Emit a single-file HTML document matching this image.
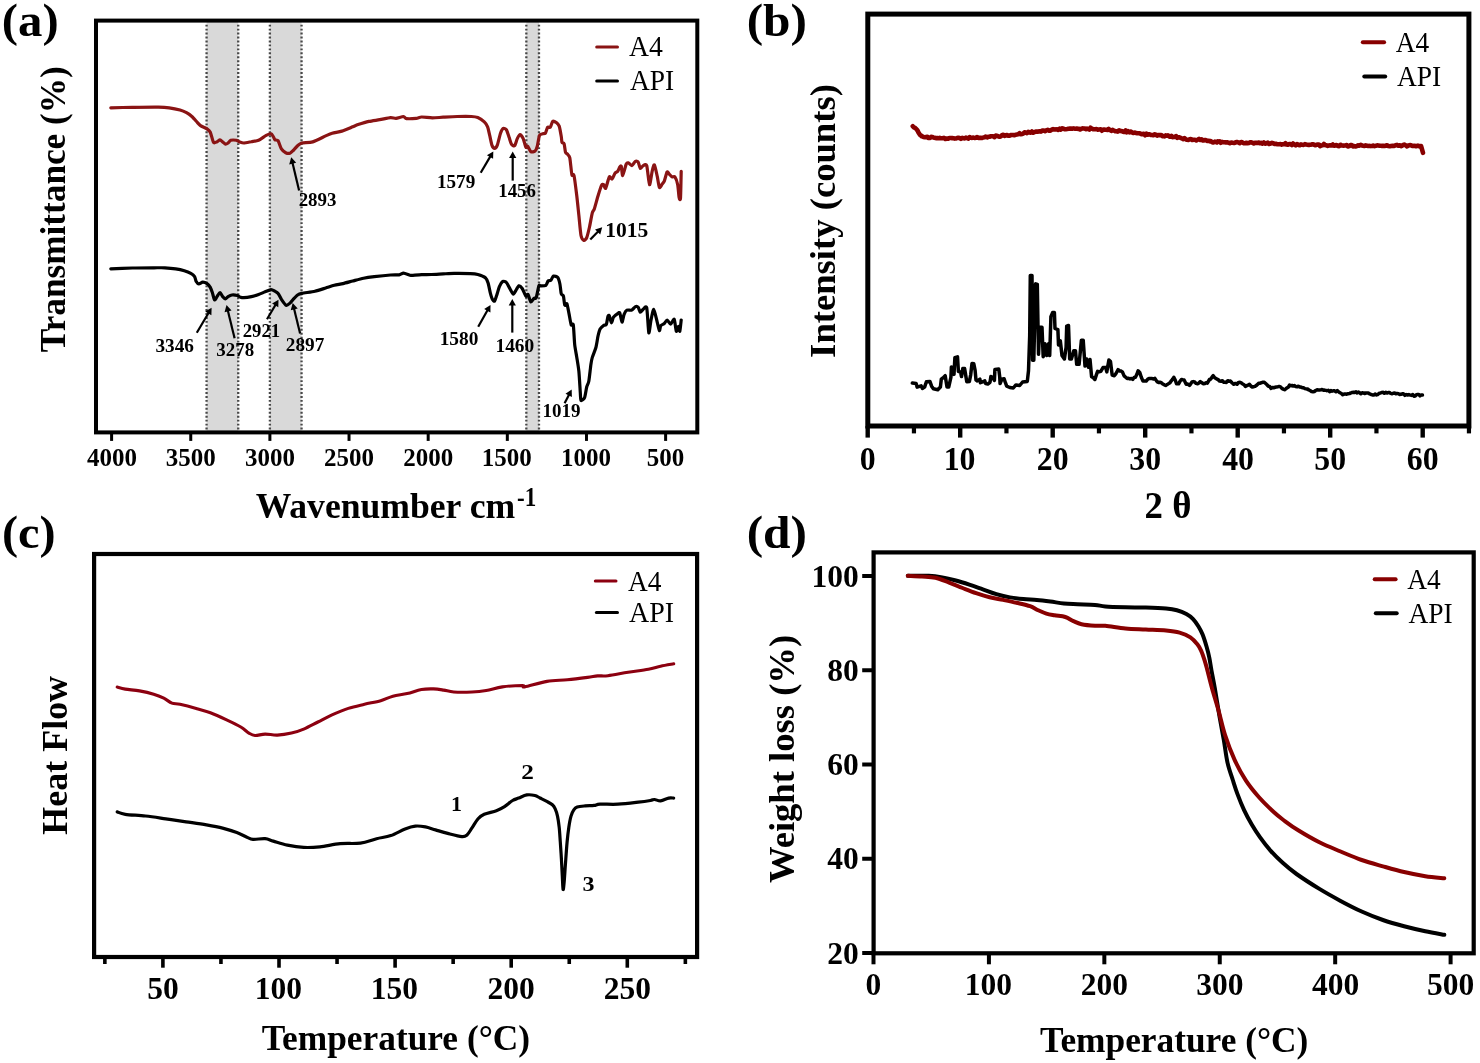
<!DOCTYPE html>
<html><head><meta charset="utf-8"><style>
html,body{margin:0;padding:0;background:#fff;width:1480px;height:1063px;overflow:hidden}
svg{display:block;font-family:"Liberation Serif",serif;-webkit-font-smoothing:antialiased;will-change:transform}
</style></head><body>
<div id="wrap"><svg width="1480" height="1063" viewBox="0 0 1480 1063">
<rect width="1480" height="1063" fill="#fff"/>
<g>
<rect x="206.57" y="20.60" width="31.66" height="411.80" fill="#d9d9d9"/>
<line x1="206.57" y1="24.7" x2="206.57" y2="432.40" stroke="#484848" stroke-width="2.3" stroke-dasharray="1.9 2.05"/>
<line x1="238.23" y1="24.7" x2="238.23" y2="432.40" stroke="#484848" stroke-width="2.3" stroke-dasharray="1.9 2.05"/>
<rect x="269.89" y="20.60" width="31.66" height="411.80" fill="#d9d9d9"/>
<line x1="269.89" y1="24.7" x2="269.89" y2="432.40" stroke="#484848" stroke-width="2.3" stroke-dasharray="1.9 2.05"/>
<line x1="301.55" y1="24.7" x2="301.55" y2="432.40" stroke="#484848" stroke-width="2.3" stroke-dasharray="1.9 2.05"/>
<rect x="526.32" y="20.60" width="12.66" height="411.80" fill="#d9d9d9"/>
<line x1="526.32" y1="24.7" x2="526.32" y2="432.40" stroke="#484848" stroke-width="2.3" stroke-dasharray="1.9 2.05"/>
<line x1="538.98" y1="24.7" x2="538.98" y2="432.40" stroke="#484848" stroke-width="2.3" stroke-dasharray="1.9 2.05"/>
<path d="M110.80,107.80 C113.32,107.74 126.85,107.38 132.40,107.30 C137.95,107.22 154.11,107.04 158.40,107.10 C162.69,107.16 166.68,107.46 169.20,107.80 C171.72,108.14 177.98,109.43 180.00,110.00 C182.02,110.57 185.11,111.94 186.50,112.70 C187.89,113.46 190.64,115.37 191.90,116.50 C193.16,117.63 196.30,121.33 197.30,122.40 C198.30,123.47 199.37,124.94 200.50,125.70 C201.63,126.46 205.86,128.14 207.00,128.90 C208.14,129.66 209.54,130.62 210.30,132.20 C211.06,133.77 212.74,141.27 213.50,142.40 C214.26,143.53 216.04,142.19 216.80,141.90 C217.56,141.61 219.31,139.90 220.00,139.90 C220.69,139.90 222.07,141.41 222.70,141.90 C223.33,142.39 224.77,143.97 225.40,144.10 C226.03,144.23 227.47,143.44 228.10,143.00 C228.73,142.56 229.86,140.62 230.80,140.30 C231.75,139.99 235.19,140.11 236.20,140.30 C237.21,140.49 238.61,141.59 239.50,141.90 C240.39,142.22 242.41,143.02 243.80,143.00 C245.19,142.98 249.67,142.01 251.40,141.70 C253.13,141.38 256.87,141.03 258.60,140.30 C260.33,139.57 264.74,136.16 266.20,135.40 C267.66,134.64 270.28,133.67 271.10,133.80 C271.92,133.93 272.76,135.81 273.20,136.50 C273.64,137.19 274.33,139.20 274.90,139.70 C275.47,140.20 277.34,139.73 278.10,140.80 C278.86,141.87 280.51,147.51 281.40,148.90 C282.29,150.29 284.70,152.20 285.70,152.70 C286.70,153.20 289.12,153.46 290.00,153.20 C290.88,152.94 292.31,151.38 293.20,150.50 C294.09,149.62 296.59,146.57 297.60,145.70 C298.62,144.82 300.14,143.44 301.90,143.00 C303.66,142.56 309.92,142.73 312.70,141.90 C315.48,141.07 323.43,136.92 325.70,135.90 C327.97,134.88 330.31,133.76 332.20,133.20 C334.09,132.64 339.51,131.85 341.90,131.10 C344.29,130.35 350.81,127.56 352.70,126.80 C354.59,126.04 356.21,125.23 358.10,124.60 C359.99,123.97 366.38,121.97 368.90,121.40 C371.42,120.83 377.18,120.14 379.70,119.70 C382.22,119.26 388.60,117.76 390.50,117.60 C392.40,117.44 394.48,118.43 396.00,118.30 C397.52,118.17 402.27,116.47 403.50,116.50 C404.73,116.53 405.02,118.39 406.50,118.60 C407.98,118.81 414.44,118.49 416.20,118.30 C417.96,118.11 419.71,117.05 421.60,117.00 C423.49,116.95 429.88,117.88 432.40,117.90 C434.92,117.92 440.29,117.36 443.20,117.20 C446.11,117.04 454.01,116.58 457.30,116.50 C460.59,116.42 469.01,116.37 471.40,116.50 C473.79,116.63 476.30,116.97 477.80,117.60 C479.31,118.23 483.16,120.83 484.30,121.90 C485.44,122.97 486.97,125.22 487.60,126.80 C488.23,128.38 489.20,133.27 489.70,135.40 C490.20,137.53 491.33,143.58 491.90,145.10 C492.47,146.62 493.97,148.40 494.60,148.40 C495.23,148.40 496.61,146.87 497.30,145.10 C497.99,143.33 499.81,135.15 500.50,133.20 C501.19,131.25 502.50,128.77 503.20,128.40 C503.90,128.03 505.80,128.93 506.50,130.00 C507.20,131.07 508.63,135.95 509.20,137.60 C509.77,139.25 510.77,143.16 511.40,144.10 C512.03,145.04 513.91,146.34 514.60,145.70 C515.29,145.06 516.67,139.91 517.30,138.60 C517.93,137.29 519.31,134.50 520.00,134.50 C520.69,134.50 522.51,137.11 523.20,138.60 C523.89,140.09 525.39,146.41 525.90,147.30 C526.41,148.19 527.03,145.70 527.60,146.20 C528.17,146.70 529.92,151.03 530.80,151.60 C531.67,152.17 534.34,151.73 535.10,151.10 C535.86,150.47 536.79,148.03 537.30,146.20 C537.81,144.37 538.87,136.85 539.50,135.40 C540.13,133.95 542.01,134.06 542.70,133.80 C543.39,133.54 544.83,133.96 545.40,133.20 C545.97,132.44 547.03,127.99 547.60,127.30 C548.17,126.61 549.69,128.01 550.30,127.30 C550.91,126.59 552.10,121.75 552.80,121.20 C553.50,120.65 555.55,122.03 556.30,122.60 C557.05,123.17 558.62,124.45 559.20,126.10 C559.78,127.74 560.97,134.81 561.30,136.70 C561.63,138.59 561.67,141.48 562.00,142.30 C562.33,143.12 563.69,142.54 564.10,143.70 C564.51,144.85 565.09,150.96 565.50,152.20 C565.91,153.44 567.10,153.64 567.60,154.30 C568.10,154.97 569.30,155.51 569.80,157.90 C570.30,160.29 571.41,172.75 571.90,174.80 C572.39,176.85 573.43,173.03 574.00,175.50 C574.57,177.97 576.23,191.31 576.80,196.00 C577.37,200.69 578.41,211.09 578.90,215.70 C579.39,220.31 580.42,232.62 581.00,235.50 C581.58,238.38 583.24,240.16 583.90,240.40 C584.56,240.65 586.05,239.16 586.70,237.60 C587.35,236.04 588.85,229.88 589.50,227.00 C590.15,224.12 591.73,215.03 592.30,212.90 C592.87,210.77 593.74,210.67 594.40,208.70 C595.06,206.73 597.17,198.72 598.00,196.00 C598.83,193.28 600.85,186.72 601.50,185.40 C602.15,184.08 603.11,184.37 603.60,184.70 C604.09,185.03 605.04,189.11 605.70,188.20 C606.37,187.29 608.55,177.97 609.30,176.90 C610.05,175.83 611.45,179.41 612.10,179.00 C612.75,178.59 614.25,174.30 614.90,173.40 C615.55,172.50 617.13,172.05 617.70,171.30 C618.27,170.55 619.38,167.58 619.80,167.00 C620.22,166.42 620.96,165.31 621.30,166.30 C621.64,167.29 622.13,175.75 622.70,175.50 C623.27,175.25 625.55,165.68 626.20,164.20 C626.85,162.72 627.65,162.64 628.30,162.80 C628.95,162.96 630.97,165.76 631.80,165.60 C632.63,165.44 634.65,161.81 635.40,161.40 C636.15,160.99 637.63,161.28 638.20,162.10 C638.77,162.92 639.73,167.99 640.30,168.40 C640.87,168.81 642.35,165.93 643.10,165.60 C643.85,165.27 645.95,163.37 646.70,165.60 C647.45,167.83 648.85,184.12 649.50,184.70 C650.15,185.28 651.73,172.91 652.30,170.60 C652.87,168.29 653.83,164.25 654.40,164.90 C654.97,165.55 656.62,173.56 657.20,176.20 C657.78,178.84 658.82,186.59 659.40,187.50 C659.98,188.41 661.63,184.75 662.20,184.00 C662.77,183.25 663.73,182.50 664.30,181.10 C664.87,179.70 666.53,172.82 667.10,172.00 C667.67,171.18 668.62,173.53 669.20,174.10 C669.78,174.67 671.44,176.57 672.10,176.90 C672.76,177.23 674.25,175.99 674.90,176.90 C675.55,177.81 677.21,182.31 677.70,184.70 C678.19,187.09 678.77,195.84 679.10,197.40 C679.43,198.96 680.25,201.14 680.50,198.10 C680.75,195.06 681.12,174.43 681.20,171.30" fill="none" stroke="#8a1414" stroke-width="3.2" stroke-linejoin="round" stroke-linecap="round"/>
<path d="M110.80,268.80 C113.32,268.71 127.35,268.12 132.40,268.00 C137.45,267.88 150.31,267.82 154.10,267.80 C157.89,267.78 162.38,267.68 164.90,267.80 C167.42,267.92 173.44,268.46 175.70,268.80 C177.96,269.14 182.54,270.16 184.30,270.70 C186.06,271.24 189.60,272.71 190.80,273.40 C192.00,274.09 193.97,275.66 194.60,276.60 C195.23,277.55 195.70,280.64 196.20,281.50 C196.70,282.36 198.14,283.92 198.90,284.00 C199.66,284.08 201.75,282.25 202.70,282.20 C203.64,282.15 206.11,282.99 207.00,283.60 C207.89,284.21 209.67,286.33 210.30,287.40 C210.93,288.47 211.90,291.34 212.40,292.80 C212.90,294.26 214.03,299.51 214.60,299.90 C215.17,300.28 216.67,296.95 217.30,296.10 C217.93,295.25 219.37,292.54 220.00,292.60 C220.63,292.66 222.07,295.88 222.70,296.60 C223.33,297.32 224.77,298.80 225.40,298.80 C226.03,298.80 227.34,297.04 228.10,296.60 C228.86,296.16 230.83,295.13 231.90,295.00 C232.97,294.87 236.30,295.24 237.30,295.50 C238.30,295.76 239.74,296.94 240.50,297.20 C241.26,297.46 242.53,297.77 243.80,297.70 C245.07,297.63 249.67,296.97 251.40,296.60 C253.13,296.23 257.00,295.06 258.60,294.50 C260.20,293.94 263.64,292.37 265.10,291.80 C266.56,291.23 269.96,289.67 271.10,289.60 C272.24,289.53 274.08,290.76 274.90,291.20 C275.72,291.64 277.34,292.45 278.10,293.40 C278.86,294.34 280.45,297.91 281.40,299.30 C282.34,300.69 285.20,304.86 286.20,305.30 C287.20,305.74 289.18,303.80 290.00,303.10 C290.82,302.40 292.31,300.25 293.20,299.30 C294.09,298.36 296.59,295.69 297.60,295.00 C298.62,294.31 299.88,293.84 301.90,293.40 C303.92,292.96 312.12,291.83 314.90,291.20 C317.68,290.57 323.44,288.69 325.70,288.00 C327.96,287.31 332.28,285.81 334.30,285.30 C336.32,284.79 340.85,284.10 343.00,283.60 C345.15,283.10 350.31,281.63 352.70,281.00 C355.09,280.37 360.98,278.71 363.50,278.20 C366.02,277.69 371.15,276.97 374.30,276.60 C377.45,276.23 387.60,275.21 390.50,275.00 C393.40,274.79 397.68,275.01 399.20,274.80 C400.72,274.59 402.24,273.14 403.50,273.20 C404.76,273.26 409.02,275.06 410.00,275.30 C410.98,275.55 410.55,275.37 411.90,275.30 C413.25,275.23 419.33,274.79 421.60,274.70 C423.88,274.61 428.88,274.59 431.40,274.50 C433.92,274.41 440.55,274.03 443.20,273.90 C445.85,273.77 450.94,273.43 454.10,273.40 C457.26,273.37 467.54,273.47 470.30,273.60 C473.06,273.73 476.04,274.02 477.80,274.50 C479.56,274.98 484.20,276.70 485.40,277.70 C486.60,278.70 487.53,281.34 488.10,283.10 C488.67,284.86 489.80,290.91 490.30,292.80 C490.80,294.69 491.90,298.34 492.40,299.30 C492.90,300.26 494.09,301.50 494.60,301.00 C495.11,300.50 496.23,296.70 496.80,295.00 C497.37,293.30 498.81,287.97 499.50,286.40 C500.19,284.82 501.88,281.94 502.70,281.50 C503.52,281.06 505.74,281.91 506.50,282.60 C507.26,283.29 508.44,286.08 509.20,287.40 C509.96,288.72 512.31,293.39 513.00,293.90 C513.69,294.41 514.41,292.75 515.10,291.80 C515.79,290.86 518.07,286.19 518.90,285.80 C519.73,285.42 521.38,287.30 522.20,288.50 C523.02,289.70 525.21,295.40 525.90,296.10 C526.59,296.80 527.53,293.81 528.10,294.50 C528.67,295.19 530.10,301.57 530.80,302.00 C531.50,302.43 533.47,298.70 534.10,298.20 C534.73,297.70 535.64,299.15 536.20,297.70 C536.76,296.25 538.40,287.19 538.90,285.80 C539.40,284.41 539.68,285.86 540.50,285.80 C541.32,285.74 545.01,285.86 545.90,285.30 C546.79,284.74 547.53,281.57 548.10,281.00 C548.67,280.43 550.17,280.97 550.80,280.40 C551.43,279.83 552.68,276.43 553.50,276.10 C554.32,275.77 557.05,276.68 557.80,277.60 C558.55,278.52 559.49,282.10 559.90,284.00 C560.31,285.90 560.89,292.50 561.30,293.90 C561.71,295.30 562.99,294.68 563.40,296.00 C563.81,297.32 564.39,304.30 564.80,305.20 C565.21,306.10 566.41,302.72 566.90,303.70 C567.39,304.68 568.50,311.13 569.00,313.60 C569.50,316.07 570.70,323.58 571.20,324.90 C571.70,326.22 572.89,322.59 573.30,324.90 C573.71,327.21 574.29,340.91 574.70,344.70 C575.11,348.49 576.31,354.27 576.80,357.40 C577.29,360.53 578.49,367.39 578.90,371.50 C579.31,375.61 580.05,389.23 580.30,392.60 C580.54,395.97 580.50,399.82 581.00,400.40 C581.50,400.98 583.94,399.16 584.60,397.60 C585.26,396.04 586.21,388.90 586.70,387.00 C587.19,385.10 588.31,383.94 588.80,381.30 C589.29,378.66 590.49,367.19 590.90,364.40 C591.31,361.61 591.72,359.37 592.30,357.40 C592.88,355.43 595.24,349.97 595.90,347.50 C596.56,345.03 597.51,338.35 598.00,336.20 C598.49,334.05 599.45,330.34 600.10,329.10 C600.75,327.86 602.87,326.17 603.60,325.60 C604.34,325.03 605.90,325.27 606.40,324.20 C606.90,323.13 607.56,317.39 607.90,316.40 C608.24,315.41 608.89,314.95 609.30,315.70 C609.71,316.45 610.91,322.64 611.40,322.80 C611.89,322.96 612.76,318.17 613.50,317.10 C614.24,316.03 616.97,314.09 617.70,313.60 C618.44,313.11 619.30,311.91 619.80,312.90 C620.30,313.89 621.50,321.94 622.00,322.10 C622.50,322.26 623.53,315.70 624.10,314.30 C624.67,312.90 626.00,310.59 626.90,310.10 C627.80,309.61 630.81,310.51 631.80,310.10 C632.79,309.69 634.65,306.93 635.40,306.60 C636.15,306.27 637.63,306.65 638.20,307.30 C638.77,307.95 639.73,311.95 640.30,312.20 C640.87,312.44 642.35,309.92 643.10,309.40 C643.85,308.88 646.04,304.98 646.70,307.70 C647.37,310.42 648.31,331.18 648.80,332.70 C649.29,334.22 650.33,323.42 650.90,320.70 C651.47,317.98 652.97,309.24 653.70,309.40 C654.44,309.56 656.54,319.63 657.20,322.10 C657.87,324.57 658.98,330.19 659.40,330.60 C659.82,331.01 660.23,326.43 660.80,325.60 C661.37,324.77 663.56,324.15 664.30,323.50 C665.03,322.85 666.37,319.92 667.10,320.00 C667.84,320.08 669.77,324.28 670.60,324.20 C671.43,324.12 673.54,318.47 674.20,319.30 C674.87,320.13 675.81,330.48 676.30,331.30 C676.79,332.12 677.99,326.30 678.40,326.30 C678.81,326.30 679.47,332.04 679.80,331.30 C680.13,330.56 681.04,321.32 681.20,320.00" fill="none" stroke="#000" stroke-width="3.2" stroke-linejoin="round" stroke-linecap="round"/>
<line x1="299.10" y1="190.40" x2="292.48" y2="162.65" stroke="#000" stroke-width="2.2" stroke-linecap="butt"/>
<path d="M291.20,157.30 L296.21,162.79 L289.21,164.46 Z" fill="#000"/>
<text transform="translate(298.64,205.90) scale(0.9697,1)" font-size="19.5" font-weight="bold" fill="#000">2893</text>
<line x1="480.70" y1="172.80" x2="490.51" y2="156.14" stroke="#000" stroke-width="2.2" stroke-linecap="butt"/>
<path d="M493.30,151.40 L493.10,158.83 L486.90,155.17 Z" fill="#000"/>
<text transform="translate(436.97,188.40) scale(0.9821,1)" font-size="19.5" font-weight="bold" fill="#000">1579</text>
<line x1="512.70" y1="180.60" x2="512.70" y2="156.90" stroke="#000" stroke-width="2.2" stroke-linecap="butt"/>
<path d="M512.70,151.40 L516.30,157.90 L509.10,157.90 Z" fill="#000"/>
<text transform="translate(498.19,196.90) scale(0.9687,1)" font-size="19.5" font-weight="bold" fill="#000">1456</text>
<line x1="590.30" y1="239.50" x2="598.36" y2="231.24" stroke="#000" stroke-width="2.2" stroke-linecap="butt"/>
<path d="M602.20,227.30 L600.24,234.47 L595.08,229.44 Z" fill="#000"/>
<text transform="translate(605.28,236.70) scale(1.0018,1)" font-size="21.5" font-weight="bold" fill="#000">1015</text>
<line x1="196.80" y1="332.80" x2="208.80" y2="312.53" stroke="#000" stroke-width="2.2" stroke-linecap="butt"/>
<path d="M211.60,307.80 L211.39,315.23 L205.19,311.56 Z" fill="#000"/>
<text transform="translate(155.43,351.50) scale(0.9884,1)" font-size="19.5" font-weight="bold" fill="#000">3346</text>
<line x1="234.60" y1="338.20" x2="227.81" y2="310.44" stroke="#000" stroke-width="2.2" stroke-linecap="butt"/>
<path d="M226.50,305.10 L231.54,310.56 L224.55,312.27 Z" fill="#000"/>
<text transform="translate(216.24,355.50) scale(0.9724,1)" font-size="19.5" font-weight="bold" fill="#000">3278</text>
<line x1="267.00" y1="319.30" x2="275.72" y2="304.44" stroke="#000" stroke-width="2.2" stroke-linecap="butt"/>
<path d="M278.50,299.70 L278.32,307.13 L272.11,303.48 Z" fill="#000"/>
<text transform="translate(242.65,336.60) scale(0.9612,1)" font-size="19.5" font-weight="bold" fill="#000">2921</text>
<line x1="300.10" y1="333.50" x2="294.00" y2="308.44" stroke="#000" stroke-width="2.2" stroke-linecap="butt"/>
<path d="M292.70,303.10 L297.74,308.56 L290.74,310.27 Z" fill="#000"/>
<text transform="translate(285.83,350.80) scale(0.9859,1)" font-size="19.5" font-weight="bold" fill="#000">2897</text>
<line x1="478.20" y1="326.70" x2="487.79" y2="309.78" stroke="#000" stroke-width="2.2" stroke-linecap="butt"/>
<path d="M490.50,305.00 L490.43,312.43 L484.16,308.88 Z" fill="#000"/>
<text transform="translate(439.65,344.70) scale(0.9929,1)" font-size="19.5" font-weight="bold" fill="#000">1580</text>
<line x1="512.30" y1="332.60" x2="512.30" y2="304.60" stroke="#000" stroke-width="2.2" stroke-linecap="butt"/>
<path d="M512.30,299.10 L515.90,305.60 L508.70,305.60 Z" fill="#000"/>
<text transform="translate(495.45,351.70) scale(0.9956,1)" font-size="19.5" font-weight="bold" fill="#000">1460</text>
<line x1="564.60" y1="403.20" x2="569.15" y2="394.48" stroke="#000" stroke-width="2.2" stroke-linecap="butt"/>
<path d="M571.70,389.60 L571.88,397.03 L565.50,393.70 Z" fill="#000"/>
<text transform="translate(542.48,417.00) scale(0.9767,1)" font-size="19.5" font-weight="bold" fill="#000">1019</text>
<line x1="111.60" y1="432.40" x2="111.60" y2="440.90" stroke="#000" stroke-width="3" stroke-linecap="butt"/>
<text transform="translate(86.91,465.80) scale(1.0000,1)" font-size="25" font-weight="bold" fill="#000">4000</text>
<line x1="190.75" y1="432.40" x2="190.75" y2="440.90" stroke="#000" stroke-width="3" stroke-linecap="butt"/>
<text transform="translate(165.75,465.80) scale(1.0000,1)" font-size="25" font-weight="bold" fill="#000">3500</text>
<line x1="269.89" y1="432.40" x2="269.89" y2="440.90" stroke="#000" stroke-width="3" stroke-linecap="butt"/>
<text transform="translate(244.89,465.80) scale(1.0000,1)" font-size="25" font-weight="bold" fill="#000">3000</text>
<line x1="349.03" y1="432.40" x2="349.03" y2="440.90" stroke="#000" stroke-width="3" stroke-linecap="butt"/>
<text transform="translate(324.03,465.80) scale(1.0000,1)" font-size="25" font-weight="bold" fill="#000">2500</text>
<line x1="428.18" y1="432.40" x2="428.18" y2="440.90" stroke="#000" stroke-width="3" stroke-linecap="butt"/>
<text transform="translate(403.18,465.80) scale(1.0000,1)" font-size="25" font-weight="bold" fill="#000">2000</text>
<line x1="507.32" y1="432.40" x2="507.32" y2="440.90" stroke="#000" stroke-width="3" stroke-linecap="butt"/>
<text transform="translate(481.82,465.80) scale(1.0000,1)" font-size="25" font-weight="bold" fill="#000">1500</text>
<line x1="586.47" y1="432.40" x2="586.47" y2="440.90" stroke="#000" stroke-width="3" stroke-linecap="butt"/>
<text transform="translate(560.97,465.80) scale(1.0000,1)" font-size="25" font-weight="bold" fill="#000">1000</text>
<line x1="665.62" y1="432.40" x2="665.62" y2="440.90" stroke="#000" stroke-width="3" stroke-linecap="butt"/>
<text transform="translate(646.87,465.80) scale(1.0000,1)" font-size="25" font-weight="bold" fill="#000">500</text>
<rect x="96.00" y="20.60" width="601.30" height="411.80" fill="none" stroke="#000" stroke-width="4" stroke-linejoin="miter"/>
<text transform="translate(255.67,518.00) scale(0.9894,1)" font-size="36" font-weight="bold" fill="#000">Wavenumber cm</text>
<text transform="translate(516.99,505.70) scale(0.8543,1)" font-size="27" font-weight="bold" fill="#000">-1</text>
<text transform="translate(64.70,352.13) rotate(-90) scale(0.9919,1)" font-size="35.5" font-weight="bold">Transmittance (%)</text>
<line x1="596.70" y1="47.00" x2="617.50" y2="47.00" stroke="#8a1414" stroke-width="3" stroke-linecap="round"/>
<line x1="596.70" y1="80.90" x2="617.50" y2="80.90" stroke="#000" stroke-width="3" stroke-linecap="round"/>
<text transform="translate(629.12,56.40) scale(0.9719,1)" font-size="28.5" font-weight="normal" fill="#000">A4</text>
<text transform="translate(629.93,90.20) scale(0.9632,1)" font-size="28.5" font-weight="normal" fill="#000">API</text>
<text transform="translate(1.85,35.60) scale(1.0392,1)" font-size="47" font-weight="bold" fill="#000">(a)</text>
<line x1="867.70" y1="426.00" x2="867.70" y2="437.60" stroke="#000" stroke-width="4.4" stroke-linecap="butt"/>
<text transform="translate(859.74,469.60) scale(0.9500,1)" font-size="33.5" font-weight="bold" fill="#000">0</text>
<line x1="913.95" y1="426.00" x2="913.95" y2="433.40" stroke="#000" stroke-width="4.2" stroke-linecap="butt"/>
<line x1="960.20" y1="426.00" x2="960.20" y2="437.60" stroke="#000" stroke-width="4.4" stroke-linecap="butt"/>
<text transform="translate(943.65,469.60) scale(0.9500,1)" font-size="33.5" font-weight="bold" fill="#000">10</text>
<line x1="1006.45" y1="426.00" x2="1006.45" y2="433.40" stroke="#000" stroke-width="4.2" stroke-linecap="butt"/>
<line x1="1052.70" y1="426.00" x2="1052.70" y2="437.60" stroke="#000" stroke-width="4.4" stroke-linecap="butt"/>
<text transform="translate(1036.79,469.60) scale(0.9500,1)" font-size="33.5" font-weight="bold" fill="#000">20</text>
<line x1="1098.95" y1="426.00" x2="1098.95" y2="433.40" stroke="#000" stroke-width="4.2" stroke-linecap="butt"/>
<line x1="1145.20" y1="426.00" x2="1145.20" y2="437.60" stroke="#000" stroke-width="4.4" stroke-linecap="butt"/>
<text transform="translate(1129.29,469.60) scale(0.9500,1)" font-size="33.5" font-weight="bold" fill="#000">30</text>
<line x1="1191.45" y1="426.00" x2="1191.45" y2="433.40" stroke="#000" stroke-width="4.2" stroke-linecap="butt"/>
<line x1="1237.70" y1="426.00" x2="1237.70" y2="437.60" stroke="#000" stroke-width="4.4" stroke-linecap="butt"/>
<text transform="translate(1222.19,469.60) scale(0.9500,1)" font-size="33.5" font-weight="bold" fill="#000">40</text>
<line x1="1283.95" y1="426.00" x2="1283.95" y2="433.40" stroke="#000" stroke-width="4.2" stroke-linecap="butt"/>
<line x1="1330.20" y1="426.00" x2="1330.20" y2="437.60" stroke="#000" stroke-width="4.4" stroke-linecap="butt"/>
<text transform="translate(1314.29,469.60) scale(0.9500,1)" font-size="33.5" font-weight="bold" fill="#000">50</text>
<line x1="1376.45" y1="426.00" x2="1376.45" y2="433.40" stroke="#000" stroke-width="4.2" stroke-linecap="butt"/>
<line x1="1422.70" y1="426.00" x2="1422.70" y2="437.60" stroke="#000" stroke-width="4.4" stroke-linecap="butt"/>
<text transform="translate(1406.87,469.60) scale(0.9500,1)" font-size="33.5" font-weight="bold" fill="#000">60</text>
<line x1="1468.95" y1="426.00" x2="1468.95" y2="433.40" stroke="#000" stroke-width="4.2" stroke-linecap="butt"/>
<path d="M912.8,126.3 L913.7,127.3 L915.1,127.9 L916.4,129.1 L917.5,130.5 L918.6,132.8 L920.1,135.1 L920.9,135.4 L921.5,136.3 L922.3,136.4 L923.4,136.9 L925.0,137.2 L927.4,136.7 L928.2,137.9 L929.1,137.8 L930.1,137.9 L931.1,136.9 L932.2,137.0 L933.4,137.4 L934.6,137.7 L935.9,138.1 L937.1,138.0 L938.5,138.3 L939.8,137.8 L941.2,138.3 L942.5,138.3 L943.9,137.9 L945.3,139.0 L946.7,138.5 L948.1,138.8 L949.5,138.0 L950.8,138.0 L952.1,138.1 L953.4,138.3 L954.7,138.6 L955.9,138.4 L957.2,138.1 L958.4,137.8 L959.7,138.0 L960.9,138.8 L962.2,137.9 L963.4,138.3 L964.7,138.4 L965.9,137.5 L967.1,138.1 L968.4,138.6 L969.6,137.1 L970.9,137.8 L972.1,137.9 L973.4,137.5 L974.6,138.0 L975.9,137.7 L977.1,137.0 L978.4,138.0 L979.6,137.8 L980.9,137.9 L982.1,138.0 L983.3,137.5 L984.6,137.3 L985.8,136.6 L987.1,137.4 L988.3,136.7 L989.6,136.7 L990.8,136.3 L992.1,136.3 L993.3,136.4 L994.6,137.2 L995.8,135.6 L997.0,135.7 L998.3,136.4 L999.5,136.8 L1000.8,136.3 L1002.0,135.1 L1003.3,134.7 L1004.5,135.9 L1005.8,135.3 L1007.0,135.0 L1008.3,135.8 L1009.5,135.7 L1010.7,135.1 L1012.0,135.0 L1013.2,135.0 L1014.5,135.3 L1015.7,134.7 L1017.0,134.5 L1018.2,134.3 L1019.5,133.2 L1020.7,134.3 L1022.0,134.0 L1023.2,133.6 L1024.5,132.3 L1025.7,132.7 L1026.9,133.2 L1028.2,131.8 L1029.4,132.4 L1030.7,132.8 L1031.9,131.5 L1033.2,132.7 L1034.4,132.1 L1035.7,131.6 L1036.9,131.6 L1038.2,131.6 L1039.5,131.2 L1040.9,131.6 L1042.2,130.6 L1043.6,130.5 L1045.0,131.1 L1046.3,130.4 L1047.7,129.9 L1049.1,130.6 L1050.4,130.7 L1051.8,129.7 L1053.1,129.1 L1054.5,129.5 L1055.8,129.4 L1057.1,129.2 L1058.3,129.9 L1059.6,128.7 L1060.8,129.6 L1062.0,128.4 L1063.1,128.5 L1064.2,129.1 L1065.7,129.2 L1067.1,129.0 L1068.4,128.7 L1069.7,128.6 L1071.0,128.6 L1072.2,128.7 L1073.3,128.4 L1074.5,128.6 L1075.6,128.7 L1076.7,128.5 L1077.9,128.9 L1079.0,128.8 L1080.1,129.5 L1081.3,128.7 L1082.5,128.4 L1083.7,128.5 L1084.9,128.6 L1086.0,129.1 L1087.1,128.6 L1088.2,128.9 L1089.3,129.6 L1090.5,127.7 L1091.6,128.4 L1092.8,129.1 L1094.0,129.2 L1095.2,129.2 L1096.5,129.0 L1097.8,129.6 L1099.2,129.5 L1100.7,129.3 L1101.8,130.7 L1102.8,129.8 L1104.0,129.5 L1105.1,129.8 L1106.3,129.8 L1107.5,130.0 L1108.7,128.9 L1110.0,130.0 L1111.3,130.8 L1112.5,129.9 L1113.8,130.5 L1115.1,131.1 L1116.4,131.2 L1117.7,131.6 L1119.1,130.3 L1120.4,131.0 L1121.7,131.1 L1123.0,131.7 L1124.3,132.0 L1125.6,130.4 L1126.8,132.3 L1128.1,131.2 L1129.4,132.3 L1130.6,131.5 L1131.9,132.4 L1133.2,133.0 L1134.6,132.6 L1135.9,132.9 L1137.2,133.3 L1138.5,133.2 L1139.9,133.3 L1141.2,134.2 L1142.5,134.1 L1143.8,133.7 L1145.1,135.2 L1146.4,133.6 L1147.6,134.7 L1148.9,134.3 L1150.1,134.6 L1151.2,135.0 L1152.3,135.0 L1153.4,135.3 L1154.5,134.4 L1155.5,134.5 L1157.1,135.6 L1158.6,135.0 L1159.9,135.1 L1161.2,135.0 L1162.4,136.2 L1163.5,136.0 L1164.6,136.4 L1165.7,135.4 L1166.8,135.8 L1167.9,135.4 L1169.0,136.3 L1170.2,136.8 L1171.4,135.8 L1172.6,137.1 L1173.8,137.0 L1174.9,136.7 L1176.1,136.1 L1177.3,137.8 L1178.5,137.4 L1179.7,137.4 L1180.9,138.1 L1182.1,138.4 L1183.4,139.1 L1184.6,138.2 L1185.9,139.4 L1187.1,139.7 L1188.4,139.9 L1189.6,139.3 L1190.9,139.1 L1192.2,140.0 L1193.5,139.7 L1194.9,139.8 L1196.3,140.5 L1197.6,139.8 L1199.0,138.9 L1200.3,139.9 L1201.6,139.3 L1202.9,140.5 L1204.1,140.4 L1205.2,140.0 L1206.3,140.4 L1207.3,140.9 L1208.8,140.7 L1209.9,141.5 L1210.7,141.1 L1211.5,141.8 L1212.3,142.2 L1213.3,142.5 L1214.8,141.6 L1216.8,142.5 L1217.7,141.3 L1218.7,141.7 L1219.7,141.4 L1220.8,142.8 L1222.0,141.8 L1223.2,142.3 L1224.4,142.3 L1225.7,142.4 L1227.0,142.2 L1228.4,142.6 L1229.8,143.3 L1231.2,142.5 L1232.6,142.8 L1234.0,143.0 L1235.4,142.5 L1236.9,142.0 L1238.3,142.4 L1239.7,143.1 L1241.1,142.0 L1242.5,142.5 L1243.8,143.2 L1245.1,143.2 L1246.4,142.8 L1247.6,143.2 L1248.9,143.0 L1250.1,142.4 L1251.4,142.3 L1252.6,142.8 L1253.8,143.5 L1255.0,142.9 L1256.2,142.8 L1257.5,142.9 L1258.7,142.6 L1259.9,143.3 L1261.2,142.9 L1262.5,143.6 L1263.8,142.4 L1265.1,143.7 L1266.4,143.3 L1267.8,142.7 L1269.1,144.0 L1270.6,143.6 L1272.0,142.8 L1273.5,143.4 L1274.6,144.0 L1275.7,143.7 L1276.9,144.2 L1278.1,144.3 L1279.3,144.3 L1280.5,144.1 L1281.7,144.6 L1282.9,144.3 L1284.1,144.3 L1285.4,143.2 L1286.7,144.5 L1287.9,144.8 L1289.2,144.1 L1290.5,144.0 L1291.8,145.1 L1293.1,143.5 L1294.4,144.5 L1295.7,145.4 L1297.0,144.0 L1298.3,144.7 L1299.7,145.3 L1301.0,144.4 L1302.3,144.7 L1303.6,144.9 L1304.9,144.1 L1306.2,144.5 L1307.5,144.7 L1308.8,145.0 L1310.0,144.7 L1311.3,144.6 L1312.6,144.3 L1313.8,144.6 L1315.1,145.2 L1316.3,144.9 L1317.6,144.5 L1318.9,144.5 L1320.1,146.1 L1321.4,145.5 L1322.7,145.3 L1323.9,143.9 L1325.2,145.3 L1326.5,145.3 L1327.7,145.9 L1329.0,145.4 L1330.2,145.2 L1331.5,145.5 L1332.8,144.4 L1334.0,145.8 L1335.3,145.5 L1336.6,145.0 L1337.8,146.0 L1339.1,146.2 L1340.4,144.8 L1341.6,145.2 L1342.9,145.6 L1344.2,145.6 L1345.4,145.4 L1346.7,145.1 L1347.9,146.5 L1349.2,146.1 L1350.5,145.1 L1351.7,145.0 L1353.0,146.4 L1354.3,146.1 L1355.5,146.5 L1356.8,146.1 L1358.1,145.3 L1359.4,145.8 L1360.7,144.8 L1361.9,145.4 L1363.2,145.7 L1364.5,146.0 L1365.8,145.4 L1367.1,145.7 L1368.3,146.0 L1369.6,145.9 L1370.9,146.1 L1372.2,145.9 L1373.4,145.6 L1374.7,146.1 L1375.9,145.8 L1377.2,145.4 L1378.4,145.5 L1379.7,145.8 L1380.9,145.7 L1382.1,145.9 L1383.4,145.8 L1384.6,145.9 L1385.8,145.7 L1387.0,145.2 L1388.3,146.0 L1389.7,146.3 L1391.1,146.0 L1392.6,145.7 L1394.0,146.0 L1395.5,145.3 L1397.0,144.9 L1398.4,145.8 L1399.9,145.3 L1401.4,146.1 L1402.8,145.2 L1404.3,144.5 L1405.7,145.2 L1407.1,146.4 L1408.5,145.5 L1409.8,145.1 L1411.1,145.3 L1412.4,145.9 L1413.6,145.9 L1414.8,145.7 L1415.9,146.3 L1416.9,145.9 L1417.9,145.6 L1418.8,145.9 L1419.7,146.4 L1420.4,146.0 L1421.1,146.1 L1423.0,152.8" fill="none" stroke="#880000" stroke-width="4.6" stroke-linejoin="round" stroke-linecap="round"/>
<path d="M912.3,383.1 L916.2,383.6 L917.1,387.1 L921.1,385.8 L922.4,388.4 L924.6,387.1 L926.4,381.8 L929.9,381.4 L931.6,386.2 L933.4,388.8 L937.8,389.7 L940.4,387.1 L941.3,379.2 L943.0,377.9 L945.2,375.7 L947.0,387.1 L948.7,387.1 L950.9,377.4 L951.4,366.9 L952.7,367.8 L954.0,374.4 L954.9,357.7 L957.5,356.8 L958.4,371.3 L960.6,372.2 L961.5,376.6 L962.8,368.6 L964.6,368.6 L966.8,381.8 L969.4,381.4 L970.7,374.8 L972.0,363.4 L973.8,363.8 L975.1,370.4 L976.0,380.1 L977.3,380.9 L979.9,379.2 L980.4,382.7 L982.6,381.8 L984.8,380.9 L985.6,383.6 L987.8,384.0 L990.0,382.3 L990.9,376.6 L992.7,377.4 L994.4,380.5 L994.9,369.5 L998.8,369.1 L999.7,376.6 L1000.1,383.6 L1001.9,379.2 L1004.1,378.7 L1005.4,382.7 L1006.7,386.2 L1009.8,387.5 L1013.3,388.0 L1015.9,384.9 L1019.7,385.5 L1022.6,382.0 L1027.3,381.4 L1028.5,370.8 L1029.7,335.5 L1030.3,275.6 L1032.0,275.6 L1032.6,360.2 L1033.8,360.2 L1035.6,283.8 L1037.3,284.4 L1038.5,354.3 L1039.7,327.3 L1042.0,327.3 L1043.2,356.7 L1045.0,343.8 L1046.7,355.5 L1048.5,343.8 L1049.7,355.5 L1050.9,316.7 L1052.6,312.6 L1054.4,312.6 L1055.0,328.5 L1057.9,329.7 L1058.5,344.9 L1060.3,340.8 L1062.0,355.5 L1064.4,359.0 L1066.1,347.3 L1066.7,326.1 L1068.5,325.5 L1069.7,359.0 L1071.4,359.0 L1073.8,350.8 L1075.5,350.8 L1076.7,364.3 L1079.1,364.3 L1081.4,340.2 L1083.2,340.2 L1085.0,366.1 L1086.7,359.0 L1088.5,367.3 L1090.0,359.5 L1091.6,376.8 L1093.2,377.6 L1094.9,379.5 L1096.2,375.4 L1097.6,371.4 L1099.2,371.8 L1100.8,371.4 L1103.0,367.6 L1104.3,367.5 L1105.7,367.6 L1106.8,371.9 L1108.9,360.0 L1110.5,361.6 L1112.2,375.1 L1114.3,375.7 L1115.6,374.2 L1116.8,372.0 L1118.1,369.7 L1119.5,370.9 L1121.0,371.1 L1122.4,371.9 L1124.1,375.9 L1125.7,377.3 L1127.1,378.5 L1128.6,378.3 L1130.0,378.9 L1131.3,378.5 L1132.7,379.4 L1134.1,377.5 L1135.4,377.3 L1136.8,374.5 L1138.1,370.8 L1139.7,372.4 L1141.3,377.2 L1143.0,381.1 L1144.6,381.1 L1146.2,381.1 L1147.8,379.2 L1149.5,378.4 L1150.8,378.5 L1152.2,378.6 L1153.6,379.0 L1154.9,378.4 L1157.0,381.6 L1158.5,382.4 L1159.9,382.3 L1161.4,382.7 L1162.8,384.0 L1164.3,384.8 L1165.7,385.4 L1167.1,384.6 L1168.6,383.6 L1170.0,382.7 L1171.3,380.8 L1172.5,379.4 L1173.8,377.3 L1175.2,380.0 L1176.5,383.8 L1178.6,383.8 L1180.0,381.3 L1181.4,379.5 L1182.8,379.8 L1184.1,380.0 L1186.2,384.3 L1187.8,384.1 L1189.5,385.4 L1190.7,383.9 L1192.0,381.9 L1193.2,381.6 L1194.7,382.0 L1196.1,383.4 L1197.6,383.8 L1198.9,383.0 L1200.3,381.6 L1201.9,382.7 L1203.5,383.8 L1204.8,383.5 L1206.0,382.7 L1207.3,383.2 L1209.5,379.5 L1210.7,379.1 L1212.0,377.2 L1213.2,375.7 L1214.8,377.8 L1216.5,378.9 L1218.1,379.6 L1219.7,381.1 L1221.0,381.3 L1222.4,380.7 L1223.8,382.3 L1225.1,382.2 L1226.4,382.4 L1227.8,380.7 L1229.2,381.3 L1230.5,381.1 L1232.2,383.0 L1233.8,384.3 L1235.4,383.4 L1237.0,384.3 L1238.5,382.4 L1240.0,382.3 L1241.3,382.8 L1242.7,384.0 L1244.1,384.7 L1245.4,386.4 L1246.8,385.7 L1248.1,385.1 L1249.5,384.3 L1250.8,386.0 L1252.2,387.0 L1253.5,386.7 L1254.9,386.4 L1256.2,385.6 L1257.6,384.3 L1258.9,383.2 L1260.3,383.2 L1261.6,382.6 L1263.0,382.2 L1264.3,382.3 L1265.7,383.5 L1267.0,384.7 L1268.4,386.2 L1269.7,386.4 L1271.1,388.4 L1272.4,387.4 L1273.8,387.7 L1275.2,387.3 L1276.5,386.9 L1277.8,386.7 L1279.2,386.4 L1280.5,386.8 L1281.9,388.4 L1283.2,389.1 L1284.6,389.7 L1285.8,388.9 L1287.0,387.8 L1288.3,387.2 L1289.5,385.1 L1290.7,385.7 L1292.0,385.4 L1293.3,386.1 L1294.5,385.5 L1295.8,386.6 L1297.1,386.8 L1298.4,386.2 L1299.7,387.0 L1300.9,387.1 L1302.2,387.7 L1303.5,387.7 L1304.9,388.6 L1306.2,388.9 L1307.6,389.0 L1308.9,390.0 L1310.3,390.6 L1311.6,391.6 L1313.0,391.8 L1314.3,391.5 L1315.7,390.5 L1317.1,389.8 L1318.4,390.0 L1319.6,389.9 L1320.9,389.8 L1322.1,389.6 L1323.4,390.2 L1324.6,390.1 L1325.9,390.4 L1327.1,390.7 L1328.4,390.3 L1329.6,391.7 L1330.9,390.5 L1332.1,391.2 L1333.4,390.8 L1334.6,390.8 L1336.0,391.8 L1337.3,390.6 L1338.7,391.8 L1340.0,392.8 L1341.4,393.5 L1342.7,394.8 L1344.1,394.1 L1345.4,394.0 L1346.8,394.2 L1348.1,393.7 L1349.5,393.5 L1350.8,393.0 L1352.2,392.4 L1353.5,392.2 L1354.7,392.5 L1356.0,391.8 L1357.2,393.0 L1358.4,392.0 L1359.6,392.7 L1360.9,393.8 L1362.1,392.7 L1363.3,392.9 L1364.5,393.5 L1365.8,393.0 L1367.0,393.1 L1368.4,393.1 L1369.7,393.9 L1371.1,394.5 L1372.4,394.9 L1373.8,394.9 L1375.2,394.1 L1376.5,394.9 L1377.8,394.5 L1379.2,393.2 L1380.6,393.0 L1381.9,392.4 L1383.2,392.3 L1384.4,393.3 L1385.7,392.3 L1387.0,393.1 L1388.2,392.6 L1389.5,392.6 L1390.8,393.4 L1392.1,393.8 L1393.3,393.2 L1394.6,392.9 L1395.9,393.8 L1397.1,393.4 L1398.4,393.7 L1399.7,394.4 L1400.9,394.3 L1402.2,393.8 L1403.5,393.8 L1404.9,395.4 L1406.2,394.5 L1407.6,395.1 L1408.9,394.6 L1410.3,395.1 L1411.6,395.4 L1412.8,394.5 L1414.0,396.2 L1415.2,396.0 L1416.4,394.7 L1417.6,394.5 L1418.8,394.4 L1420.0,395.8 L1421.2,394.9 L1422.4,395.1" fill="none" stroke="#000" stroke-width="3.5" stroke-linejoin="round" stroke-linecap="round"/>
<rect x="867.80" y="14.10" width="601.10" height="411.90" fill="none" stroke="#000" stroke-width="5.0" stroke-linejoin="miter"/>
<text transform="translate(1144.52,517.80) scale(0.9970,1)" font-size="37" font-weight="bold" fill="#000">2 θ</text>
<text transform="translate(835.40,357.88) rotate(-90) scale(1.0178,1)" font-size="36" font-weight="bold">Intensity (counts)</text>
<line x1="1362.80" y1="42.20" x2="1384.10" y2="42.20" stroke="#880000" stroke-width="4" stroke-linecap="round"/>
<line x1="1364.30" y1="76.40" x2="1385.20" y2="76.40" stroke="#000" stroke-width="4" stroke-linecap="round"/>
<text transform="translate(1395.83,51.80) scale(0.9436,1)" font-size="29" font-weight="normal" fill="#000">A4</text>
<text transform="translate(1396.93,86.30) scale(0.9466,1)" font-size="29" font-weight="normal" fill="#000">API</text>
<text transform="translate(746.68,36.10) scale(1.0498,1)" font-size="47" font-weight="bold" fill="#000">(b)</text>
<line x1="104.85" y1="957.00" x2="104.85" y2="964.00" stroke="#000" stroke-width="3.6" stroke-linecap="butt"/>
<line x1="162.90" y1="957.00" x2="162.90" y2="967.70" stroke="#000" stroke-width="3.6" stroke-linecap="butt"/>
<text transform="translate(147.15,998.80) scale(1.0000,1)" font-size="31.5" font-weight="bold" fill="#000">50</text>
<line x1="220.95" y1="957.00" x2="220.95" y2="964.00" stroke="#000" stroke-width="3.6" stroke-linecap="butt"/>
<line x1="279.00" y1="957.00" x2="279.00" y2="967.70" stroke="#000" stroke-width="3.6" stroke-linecap="butt"/>
<text transform="translate(254.74,998.80) scale(1.0000,1)" font-size="31.5" font-weight="bold" fill="#000">100</text>
<line x1="337.05" y1="957.00" x2="337.05" y2="964.00" stroke="#000" stroke-width="3.6" stroke-linecap="butt"/>
<line x1="395.10" y1="957.00" x2="395.10" y2="967.70" stroke="#000" stroke-width="3.6" stroke-linecap="butt"/>
<text transform="translate(370.85,998.80) scale(1.0000,1)" font-size="31.5" font-weight="bold" fill="#000">150</text>
<line x1="453.15" y1="957.00" x2="453.15" y2="964.00" stroke="#000" stroke-width="3.6" stroke-linecap="butt"/>
<line x1="511.20" y1="957.00" x2="511.20" y2="967.70" stroke="#000" stroke-width="3.6" stroke-linecap="butt"/>
<text transform="translate(487.58,998.80) scale(1.0000,1)" font-size="31.5" font-weight="bold" fill="#000">200</text>
<line x1="569.25" y1="957.00" x2="569.25" y2="964.00" stroke="#000" stroke-width="3.6" stroke-linecap="butt"/>
<line x1="627.30" y1="957.00" x2="627.30" y2="967.70" stroke="#000" stroke-width="3.6" stroke-linecap="butt"/>
<text transform="translate(603.68,998.80) scale(1.0000,1)" font-size="31.5" font-weight="bold" fill="#000">250</text>
<line x1="685.35" y1="957.00" x2="685.35" y2="964.00" stroke="#000" stroke-width="3.6" stroke-linecap="butt"/>
<path d="M117.20,687.10 C118.55,687.43 121.58,688.47 125.30,689.10 C129.02,689.73 134.77,690.05 139.50,690.90 C144.23,691.75 149.65,692.98 153.70,694.20 C157.75,695.42 160.77,696.72 163.80,698.20 C166.83,699.68 169.20,702.08 171.90,703.10 C174.60,704.12 175.95,703.42 180.00,704.30 C184.05,705.18 191.13,706.98 196.20,708.40 C201.27,709.82 205.33,710.88 210.40,712.80 C215.47,714.72 221.53,717.53 226.60,719.90 C231.67,722.27 237.08,724.80 240.80,727.00 C244.52,729.20 246.53,731.68 248.90,733.10 C251.27,734.52 252.30,735.33 255.00,735.50 C257.70,735.67 261.38,734.17 265.10,734.10 C268.82,734.03 272.90,735.27 277.30,735.10 C281.70,734.93 287.10,734.10 291.50,733.10 C295.90,732.10 299.30,730.95 303.70,729.10 C308.10,727.25 313.18,724.37 317.90,722.00 C322.62,719.63 326.93,717.17 332.00,714.90 C337.07,712.63 342.88,710.17 348.30,708.40 C353.72,706.63 359.10,705.58 364.50,704.30 C369.90,703.02 375.97,702.05 380.70,700.70 C385.43,699.35 388.48,697.38 392.90,696.20 C397.32,695.02 402.45,694.72 407.20,693.60 C411.95,692.48 417.02,690.28 421.40,689.50 C425.78,688.72 429.78,688.80 433.50,688.90 C437.22,689.00 440.32,689.58 443.70,690.10 C447.08,690.62 449.08,691.68 453.80,692.00 C458.52,692.32 466.60,692.25 472.00,692.00 C477.40,691.75 481.13,691.35 486.20,690.50 C491.27,689.65 496.32,687.73 502.40,686.90 C508.48,686.07 518.98,685.50 522.70,685.50 C526.42,685.50 520.65,687.58 524.70,686.90 C528.75,686.22 539.90,682.58 547.00,681.40 C554.10,680.22 560.53,680.47 567.30,679.80 C574.07,679.13 582.53,678.05 587.60,677.40 C592.67,676.75 594.32,676.18 597.70,675.90 C601.08,675.62 602.83,676.30 607.90,675.70 C612.97,675.10 621.35,673.37 628.10,672.30 C634.85,671.23 642.98,670.32 648.40,669.30 C653.82,668.28 656.38,667.12 660.60,666.20 C664.82,665.28 671.52,664.20 673.70,663.80" fill="none" stroke="#8c0010" stroke-width="3.1" stroke-linejoin="round" stroke-linecap="round"/>
<path d="M117.20,811.90 C118.55,812.30 120.58,813.62 125.30,814.30 C130.02,814.98 138.75,815.25 145.50,816.00 C152.25,816.75 159.03,817.83 165.80,818.80 C172.57,819.77 179.33,820.78 186.10,821.80 C192.87,822.82 200.32,823.85 206.40,824.90 C212.48,825.95 217.53,826.82 222.60,828.10 C227.67,829.38 232.75,831.08 236.80,832.60 C240.85,834.12 244.20,836.08 246.90,837.20 C249.60,838.32 249.97,839.05 253.00,839.30 C256.03,839.55 261.72,838.40 265.10,838.70 C268.48,839.00 269.58,840.03 273.30,841.10 C277.02,842.17 282.33,844.05 287.40,845.10 C292.47,846.15 298.28,847.12 303.70,847.40 C309.12,847.68 313.82,847.42 319.90,846.80 C325.98,846.18 333.45,844.32 340.20,843.70 C346.95,843.08 354.33,843.93 360.40,843.10 C366.47,842.27 371.53,839.95 376.60,838.70 C381.67,837.45 386.05,837.23 390.80,835.60 C395.55,833.97 401.02,830.48 405.10,828.90 C409.18,827.32 411.92,826.43 415.30,826.10 C418.68,825.77 422.03,826.27 425.40,826.90 C428.77,827.53 431.78,828.82 435.50,829.90 C439.22,830.98 443.30,832.28 447.70,833.40 C452.10,834.52 458.68,836.33 461.90,836.60 C465.12,836.87 465.32,836.45 467.00,835.00 C468.68,833.55 470.15,830.60 472.00,827.90 C473.85,825.20 476.07,821.07 478.10,818.80 C480.13,816.53 481.15,815.65 484.20,814.30 C487.25,812.95 493.02,811.98 496.40,810.70 C499.78,809.42 501.80,808.30 504.50,806.60 C507.20,804.90 510.23,801.92 512.60,800.50 C514.97,799.08 516.33,799.03 518.70,798.10 C521.07,797.17 524.10,795.33 526.80,794.90 C529.50,794.47 532.70,794.98 534.90,795.50 C537.10,796.02 538.02,797.02 540.00,798.00 C541.98,798.98 544.73,800.27 546.80,801.40 C548.87,802.53 551.00,803.57 552.40,804.80 C553.80,806.03 554.35,806.92 555.20,808.80 C556.05,810.68 556.83,813.00 557.50,816.10 C558.17,819.20 558.73,823.08 559.20,827.40 C559.67,831.72 559.93,836.75 560.30,842.00 C560.67,847.25 561.07,853.25 561.40,858.90 C561.73,864.55 562.02,870.80 562.30,875.90 C562.58,881.00 562.78,888.57 563.10,889.50 C563.42,890.43 563.82,885.65 564.20,881.50 C564.58,877.35 564.92,871.18 565.40,864.60 C565.88,858.02 566.53,848.20 567.10,842.00 C567.67,835.80 568.15,831.72 568.80,827.40 C569.45,823.08 570.17,819.02 571.00,816.10 C571.83,813.18 572.77,811.40 573.80,809.90 C574.83,808.40 575.32,807.77 577.20,807.10 C579.08,806.43 582.28,806.18 585.10,805.90 C587.92,805.62 591.62,805.68 594.10,805.40 C596.58,805.12 596.02,804.40 600.00,804.20 C603.98,804.00 611.62,804.53 618.00,804.20 C624.38,803.87 632.90,802.82 638.30,802.20 C643.70,801.58 647.70,800.95 650.40,800.50 C653.10,800.05 652.80,799.43 654.50,799.50 C656.20,799.57 658.23,801.13 660.60,800.90 C662.97,800.67 666.52,798.57 668.70,798.10 C670.88,797.63 672.87,798.10 673.70,798.10" fill="none" stroke="#000" stroke-width="3.2" stroke-linejoin="round" stroke-linecap="round"/>
<text transform="translate(451.05,810.50) scale(1.0425,1)" font-size="21" font-weight="bold" fill="#000">1</text>
<text transform="translate(521.29,779.10) scale(1.2048,1)" font-size="21" font-weight="bold" fill="#000">2</text>
<text transform="translate(582.54,890.60) scale(1.1429,1)" font-size="21" font-weight="bold" fill="#000">3</text>
<rect x="94.10" y="554.00" width="603.00" height="403.00" fill="none" stroke="#000" stroke-width="4.2" stroke-linejoin="miter"/>
<text transform="translate(261.67,1049.50) scale(0.9825,1)" font-size="36" font-weight="bold" fill="#000">Temperature (°C)</text>
<text transform="translate(67.00,834.64) rotate(-90) scale(0.9986,1)" font-size="36" font-weight="bold">Heat Flow</text>
<line x1="595.30" y1="581.00" x2="616.00" y2="581.00" stroke="#8c0010" stroke-width="3" stroke-linecap="round"/>
<line x1="596.40" y1="612.40" x2="617.50" y2="612.40" stroke="#000" stroke-width="3" stroke-linecap="round"/>
<text transform="translate(628.03,590.50) scale(0.9436,1)" font-size="29" font-weight="normal" fill="#000">A4</text>
<text transform="translate(629.12,622.10) scale(0.9642,1)" font-size="29" font-weight="normal" fill="#000">API</text>
<text transform="translate(1.92,548.00) scale(1.0305,1)" font-size="47" font-weight="bold" fill="#000">(c)</text>
<line x1="873.50" y1="953.30" x2="873.50" y2="964.30" stroke="#000" stroke-width="4.0" stroke-linecap="butt"/>
<text transform="translate(865.62,995.40) scale(1.0000,1)" font-size="31.5" font-weight="bold" fill="#000">0</text>
<line x1="988.92" y1="953.30" x2="988.92" y2="964.30" stroke="#000" stroke-width="4.0" stroke-linecap="butt"/>
<text transform="translate(964.66,995.40) scale(1.0000,1)" font-size="31.5" font-weight="bold" fill="#000">100</text>
<line x1="1104.34" y1="953.30" x2="1104.34" y2="964.30" stroke="#000" stroke-width="4.0" stroke-linecap="butt"/>
<text transform="translate(1080.71,995.40) scale(1.0000,1)" font-size="31.5" font-weight="bold" fill="#000">200</text>
<line x1="1219.76" y1="953.30" x2="1219.76" y2="964.30" stroke="#000" stroke-width="4.0" stroke-linecap="butt"/>
<text transform="translate(1196.13,995.40) scale(1.0000,1)" font-size="31.5" font-weight="bold" fill="#000">300</text>
<line x1="1335.18" y1="953.30" x2="1335.18" y2="964.30" stroke="#000" stroke-width="4.0" stroke-linecap="butt"/>
<text transform="translate(1311.95,995.40) scale(1.0000,1)" font-size="31.5" font-weight="bold" fill="#000">400</text>
<line x1="1450.60" y1="953.30" x2="1450.60" y2="964.30" stroke="#000" stroke-width="4.0" stroke-linecap="butt"/>
<text transform="translate(1426.97,995.40) scale(1.0000,1)" font-size="31.5" font-weight="bold" fill="#000">500</text>
<line x1="862.20" y1="953.00" x2="873.60" y2="953.00" stroke="#000" stroke-width="4.0" stroke-linecap="butt"/>
<text transform="translate(827.36,963.63) scale(1.0000,1)" font-size="31.5" font-weight="bold" fill="#000">20</text>
<line x1="862.20" y1="858.75" x2="873.60" y2="858.75" stroke="#000" stroke-width="4.0" stroke-linecap="butt"/>
<text transform="translate(827.36,869.38) scale(1.0000,1)" font-size="31.5" font-weight="bold" fill="#000">40</text>
<line x1="862.20" y1="764.50" x2="873.60" y2="764.50" stroke="#000" stroke-width="4.0" stroke-linecap="butt"/>
<text transform="translate(827.36,775.13) scale(1.0000,1)" font-size="31.5" font-weight="bold" fill="#000">60</text>
<line x1="862.20" y1="670.25" x2="873.60" y2="670.25" stroke="#000" stroke-width="4.0" stroke-linecap="butt"/>
<text transform="translate(827.36,680.88) scale(1.0000,1)" font-size="31.5" font-weight="bold" fill="#000">80</text>
<line x1="862.20" y1="576.00" x2="873.60" y2="576.00" stroke="#000" stroke-width="4.0" stroke-linecap="butt"/>
<text transform="translate(811.61,586.63) scale(1.0000,1)" font-size="31.5" font-weight="bold" fill="#000">100</text>
<path d="M907.80,575.80 C911.30,575.80 923.05,575.53 928.80,575.80 C934.55,576.07 937.80,576.62 942.30,577.40 C946.80,578.18 951.30,579.30 955.80,580.50 C960.30,581.70 964.80,583.13 969.30,584.60 C973.80,586.07 978.28,587.72 982.80,589.30 C987.32,590.88 991.88,592.75 996.40,594.10 C1000.92,595.45 1005.40,596.57 1009.90,597.40 C1014.40,598.23 1018.90,598.68 1023.40,599.10 C1027.90,599.52 1032.40,599.50 1036.90,599.90 C1041.40,600.30 1045.90,600.90 1050.40,601.50 C1054.90,602.10 1059.40,603.05 1063.90,603.50 C1068.40,603.95 1072.22,603.97 1077.40,604.20 C1082.58,604.43 1090.35,604.52 1095.00,604.90 C1099.65,605.28 1100.22,606.10 1105.30,606.50 C1110.38,606.90 1118.75,607.12 1125.50,607.30 C1132.25,607.48 1139.03,607.38 1145.80,607.60 C1152.57,607.82 1160.92,608.15 1166.10,608.60 C1171.28,609.05 1173.52,609.38 1176.90,610.30 C1180.28,611.22 1183.70,612.63 1186.40,614.10 C1189.10,615.57 1191.08,617.03 1193.10,619.10 C1195.12,621.17 1196.92,623.92 1198.50,626.50 C1200.08,629.08 1201.25,631.22 1202.60,634.60 C1203.95,637.98 1205.48,642.97 1206.60,646.80 C1207.72,650.63 1208.50,653.73 1209.30,657.60 C1210.10,661.47 1210.48,664.90 1211.40,670.00 C1212.32,675.10 1213.45,680.47 1214.80,688.20 C1216.15,695.93 1218.00,707.77 1219.50,716.40 C1221.00,725.03 1222.47,732.30 1223.80,740.00 C1225.13,747.70 1226.00,755.93 1227.50,762.60 C1229.00,769.27 1231.13,774.75 1232.80,780.00 C1234.47,785.25 1235.62,789.08 1237.50,794.10 C1239.38,799.12 1241.75,805.08 1244.10,810.10 C1246.45,815.12 1248.93,819.65 1251.60,824.20 C1254.27,828.75 1256.95,833.00 1260.10,837.40 C1263.25,841.80 1266.73,846.37 1270.50,850.60 C1274.27,854.83 1278.37,858.90 1282.70,862.80 C1287.03,866.70 1290.38,869.65 1296.50,874.00 C1302.62,878.35 1312.05,884.42 1319.40,888.90 C1326.75,893.38 1333.55,897.13 1340.60,900.90 C1347.65,904.67 1354.65,908.32 1361.70,911.50 C1368.75,914.68 1375.83,917.53 1382.90,920.00 C1389.97,922.47 1397.03,924.42 1404.10,926.30 C1411.17,928.18 1418.60,929.88 1425.30,931.30 C1432.00,932.72 1441.13,934.22 1444.30,934.80" fill="none" stroke="#000" stroke-width="4.0" stroke-linejoin="round" stroke-linecap="round"/>
<path d="M907.80,575.80 C910.17,575.92 917.38,576.17 922.00,576.50 C926.62,576.83 930.98,576.78 935.50,577.80 C940.02,578.82 944.58,580.90 949.10,582.60 C953.62,584.30 958.10,586.25 962.60,588.00 C967.10,589.75 971.60,591.57 976.10,593.10 C980.60,594.63 985.10,596.07 989.60,597.20 C994.10,598.33 998.60,598.97 1003.10,599.90 C1007.60,600.83 1012.10,601.75 1016.60,602.80 C1021.10,603.85 1026.50,604.95 1030.10,606.20 C1033.70,607.45 1035.48,609.07 1038.20,610.30 C1040.92,611.53 1043.68,612.77 1046.40,613.60 C1049.12,614.43 1051.35,614.73 1054.50,615.30 C1057.65,615.87 1062.15,616.03 1065.30,617.00 C1068.45,617.97 1070.70,619.90 1073.40,621.10 C1076.10,622.30 1077.90,623.42 1081.50,624.20 C1085.10,624.98 1091.03,625.53 1095.00,625.80 C1098.97,626.07 1100.22,625.35 1105.30,625.80 C1110.38,626.25 1118.75,627.88 1125.50,628.50 C1132.25,629.12 1139.03,629.17 1145.80,629.50 C1152.57,629.83 1160.47,629.98 1166.10,630.50 C1171.73,631.02 1175.55,631.47 1179.60,632.60 C1183.65,633.73 1187.47,635.38 1190.40,637.30 C1193.33,639.22 1195.40,641.85 1197.20,644.10 C1199.00,646.35 1199.97,648.10 1201.20,650.80 C1202.43,653.50 1203.58,657.10 1204.60,660.30 C1205.62,663.50 1206.07,665.35 1207.30,670.00 C1208.53,674.65 1210.12,681.40 1212.00,688.20 C1213.88,695.00 1216.42,702.97 1218.60,710.80 C1220.78,718.63 1222.45,727.05 1225.10,735.20 C1227.75,743.35 1231.05,752.17 1234.50,759.70 C1237.95,767.23 1241.72,774.13 1245.80,780.40 C1249.88,786.67 1254.30,791.98 1259.00,797.30 C1263.70,802.62 1269.82,808.43 1274.00,812.30 C1278.18,816.17 1280.07,817.50 1284.10,820.50 C1288.13,823.50 1292.32,826.67 1298.20,830.30 C1304.08,833.93 1312.33,838.77 1319.40,842.30 C1326.47,845.83 1333.55,848.55 1340.60,851.50 C1347.65,854.45 1354.65,857.53 1361.70,860.00 C1368.75,862.47 1375.83,864.30 1382.90,866.30 C1389.97,868.30 1397.03,870.35 1404.10,872.00 C1411.17,873.65 1418.60,875.15 1425.30,876.20 C1432.00,877.25 1441.13,877.95 1444.30,878.30" fill="none" stroke="#880000" stroke-width="4.0" stroke-linejoin="round" stroke-linecap="round"/>
<rect x="873.60" y="552.40" width="600.10" height="400.90" fill="none" stroke="#000" stroke-width="4.2" stroke-linejoin="miter"/>
<text transform="translate(1040.07,1052.20) scale(0.9821,1)" font-size="36" font-weight="bold" fill="#000">Temperature (°C)</text>
<text transform="translate(794.40,882.95) rotate(-90) scale(1.0173,1)" font-size="36" font-weight="bold">Weight loss (%)</text>
<line x1="1374.70" y1="579.30" x2="1395.60" y2="579.30" stroke="#880000" stroke-width="4" stroke-linecap="round"/>
<line x1="1375.80" y1="613.20" x2="1396.70" y2="613.20" stroke="#000" stroke-width="4" stroke-linecap="round"/>
<text transform="translate(1407.33,589.00) scale(0.9436,1)" font-size="29" font-weight="normal" fill="#000">A4</text>
<text transform="translate(1408.42,623.20) scale(0.9488,1)" font-size="29" font-weight="normal" fill="#000">API</text>
<text transform="translate(746.68,548.00) scale(1.0498,1)" font-size="47" font-weight="bold" fill="#000">(d)</text></g>
</svg></div></body></html>
